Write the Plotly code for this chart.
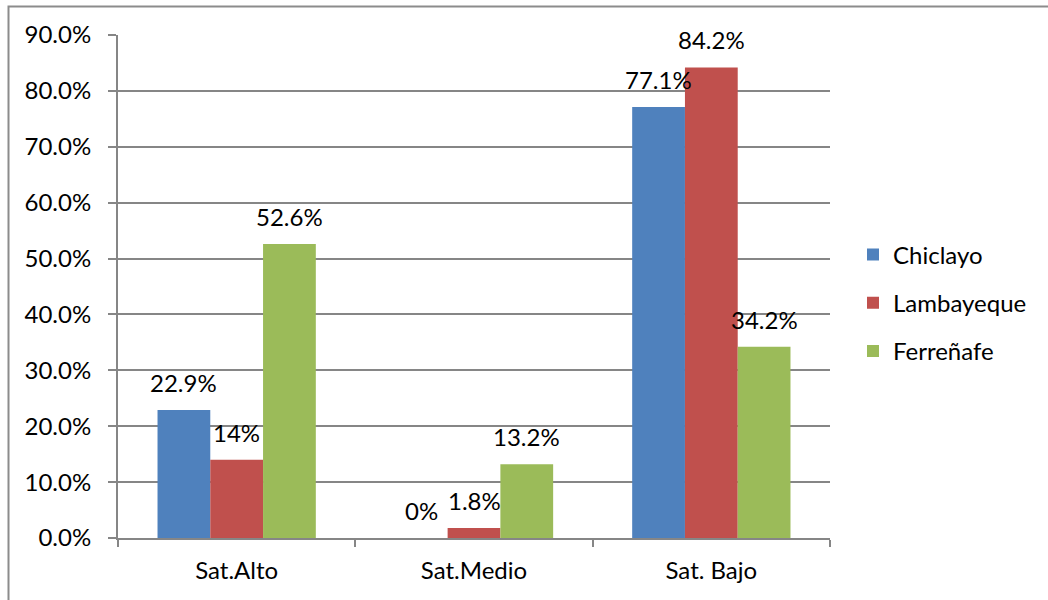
import plotly.graph_objects as go

categories = ["Sat.Alto", "Sat.Medio", "Sat. Bajo"]
series_names = ["Chiclayo", "Lambayeque", "Ferreñafe"]
chiclayo = [0.229, 0.0, 0.771]
lambayeque = [0.14, 0.018, 0.842]
ferrenafe = [0.526, 0.132, 0.342]
chiclayo_labels = ["22.9%", "0%", "77.1%"]
lambayeque_labels = ["14%", "1.8%", "84.2%"]
ferrenafe_labels = ["52.6%", "13.2%", "34.2%"]
colors = ["#4F81BD", "#C0504D", "#9BBB59"]

values = [chiclayo, lambayeque, ferrenafe]
labels = [chiclayo_labels, lambayeque_labels, ferrenafe_labels]

FONT = "Lato"
FS = 24
fig = go.Figure()
for i, (name, vals) in enumerate(zip(series_names, values)):
    fig.add_trace(go.Bar(x=categories, y=vals, name=name, marker_color=colors[i],
                         marker_line_width=0, legendgroup=name))

bar_px = 52.7
for i, (vals, labs) in enumerate(zip(values, labels)):
    for c, v, t in zip(categories, vals, labs):
        fig.add_annotation(x=c, y=v, text=t, showarrow=False, xshift=(i - 1) * bar_px,
                           yanchor="bottom", yshift=11,
                           font=dict(family=FONT, size=FS, color="#000000"))

fig.add_shape(type="rect", xref="paper", yref="paper",
              x0=(8.5 - 118) / 712, x1=2, y0=-1, y1=(538 - 6.5) / 503,
              line=dict(color="#8C8C8C", width=2), fillcolor="rgba(0,0,0,0)", layer="below")

fig.update_layout(
    width=1048, height=600,
    margin=dict(l=118, r=218, t=35, b=62),
    paper_bgcolor="white", plot_bgcolor="white",
    barmode="group", bargap=0.333, bargroupgap=0,
    font=dict(family=FONT, size=FS, color="#000000"),
    legend=dict(xref="container", yref="container", x=853 / 1048, xanchor="left",
                y=1 - 303 / 600, yanchor="middle",
                font=dict(family=FONT, size=FS, color="#000000"),
                tracegroupgap=14, traceorder="grouped", itemwidth=30),
    xaxis=dict(showline=True, linecolor="#868686", linewidth=2, ticks="outside",
               tickson="boundaries", ticklen=7, tickcolor="#868686", tickwidth=2,
               showgrid=False, fixedrange=True, ticklabelstandoff=10),
    yaxis=dict(range=[0, 0.9], dtick=0.1, tickformat=".1%", showline=True,
               linecolor="#868686", linewidth=2, ticks="outside", ticklen=8,
               tickcolor="#868686", tickwidth=2, showgrid=True, gridcolor="#868686",
               gridwidth=2, zeroline=False, fixedrange=True, ticklabelstandoff=12),
    showlegend=True,
)

fig.write_html("out.html")
